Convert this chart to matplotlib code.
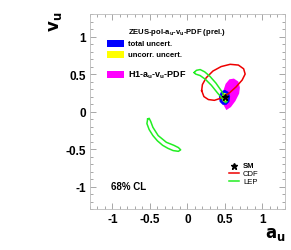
import numpy as np
import matplotlib
matplotlib.use('Agg')
import matplotlib.pyplot as plt
from matplotlib.patches import Rectangle
from matplotlib.ticker import MultipleLocator

plt.rcParams['font.family'] = ['Liberation Sans', 'DejaVu Sans']
plt.rcParams['axes.unicode_minus'] = False

# 68% CL contours (a_u, v_u)
h1_a = [0.52, 0.58, 0.64, 0.69, 0.70, 0.68, 0.62, 0.56, 0.51, 0.48, 0.47, 0.48]
h1_v = [0.02, 0.06, 0.14, 0.24, 0.32, 0.40, 0.44, 0.43, 0.37, 0.28, 0.18, 0.09]

tot_a = [0.42, 0.43, 0.47, 0.52, 0.56, 0.57, 0.55, 0.50, 0.45]
tot_v = [0.20, 0.13, 0.09, 0.09, 0.13, 0.20, 0.26, 0.29, 0.27]

unc_a = [0.46, 0.47, 0.50, 0.53, 0.54, 0.52, 0.49, 0.47]
unc_v = [0.19, 0.14, 0.12, 0.14, 0.19, 0.24, 0.25, 0.23]

cdf_a = [0.19, 0.22, 0.28, 0.36, 0.45, 0.55, 0.65, 0.73, 0.77, 0.75, 0.68, 0.57, 0.45, 0.34, 0.25, 0.20, 0.19]
cdf_v = [0.28, 0.20, 0.16, 0.15, 0.18, 0.24, 0.33, 0.42, 0.50, 0.57, 0.62, 0.63, 0.60, 0.54, 0.45, 0.36, 0.28]

lep1_a = [0.09, 0.12, 0.17, 0.23, 0.30, 0.38, 0.45, 0.50, 0.53, 0.51, 0.47, 0.40, 0.32, 0.24, 0.17, 0.11, 0.09]
lep1_v = [0.52, 0.55, 0.56, 0.53, 0.47, 0.38, 0.28, 0.20, 0.14, 0.12, 0.17, 0.25, 0.35, 0.43, 0.48, 0.50, 0.52]

lep2_a = [-0.53, -0.54, -0.51, -0.46, -0.40, -0.33, -0.26, -0.19, -0.12, -0.09, -0.12, -0.18, -0.28, -0.39, -0.46, -0.49, -0.51, -0.53]
lep2_v = [-0.10, -0.16, -0.24, -0.32, -0.39, -0.45, -0.49, -0.52, -0.53, -0.51, -0.48, -0.45, -0.41, -0.32, -0.21, -0.13, -0.09, -0.10]

sm_a = [0.50]
sm_v = [0.20]

ticks = [-1, -0.5, 0, 0.5, 1]
tick_labels = ['-1', '-0.5', '0', '0.5', '1']

fig = plt.figure(figsize=(2.91, 2.51), dpi=100)
ax = fig.add_axes([0.309, 0.163, 0.670, 0.777])

ax.fill(h1_a, h1_v, color='#ff00ff', lw=0)
ax.fill(tot_a, tot_v, color='#0000ff', lw=0)
ax.fill(unc_a, unc_v, color='#ffff00', lw=0)
ax.plot(cdf_a, cdf_v, color='#ee0000', lw=1.1)
ax.plot(lep1_a, lep1_v, color='#22ee22', lw=1.1)
ax.plot(lep2_a, lep2_v, color='#22ee22', lw=1.1)
ax.plot(sm_a, sm_v, '*', color='black', ms=5)

ax.set_xlim(-1.3, 1.3)
ax.set_ylim(-1.3, 1.3)
ax.set_xticks(ticks)
ax.set_xticklabels(tick_labels)
ax.set_yticks(ticks)
ax.set_yticklabels(tick_labels)
ax.xaxis.set_minor_locator(MultipleLocator(0.1))
ax.yaxis.set_minor_locator(MultipleLocator(0.1))
ax.tick_params(which='both', direction='in', top=True, right=True, color='#999999', width=0.6)
ax.tick_params(which='major', length=4, labelsize=8.5, pad=3)
ax.tick_params(which='minor', length=2)
for lab in ax.get_xticklabels() + ax.get_yticklabels():
    lab.set_fontweight('bold')
for s in ax.spines.values():
    s.set_color('#bbbbbb')
    s.set_linewidth(0.6)

fig.text(0.98, 0.03, r'$\mathbf{a_u}$', fontsize=12, ha='right', va='bottom')
fig.text(0.19, 0.955, r'$\mathbf{v_u}$', fontsize=12, ha='center', va='top', rotation=90)

# legend (top left)
fs = 5.5
ax.text(0.195, 0.909, r'ZEUS-pol-a$_\mathregular{u}$-v$_\mathregular{u}$-PDF (prel.)',
        transform=ax.transAxes, fontsize=fs, fontweight='bold', va='center')
ax.add_patch(Rectangle((0.086, 0.830), 0.090, 0.035, transform=ax.transAxes, color='#0000ff', lw=0))
ax.text(0.195, 0.848, 'total uncert.', transform=ax.transAxes, fontsize=fs, fontweight='bold', va='center')
ax.add_patch(Rectangle((0.086, 0.775), 0.090, 0.035, transform=ax.transAxes, color='#ffff00', lw=0))
ax.text(0.195, 0.793, 'uncorr. uncert.', transform=ax.transAxes, fontsize=fs, fontweight='bold', va='center')
ax.add_patch(Rectangle((0.086, 0.672), 0.090, 0.038, transform=ax.transAxes, color='#ff00ff', lw=0))
ax.text(0.195, 0.692, r'H1-a$_\mathregular{u}$-v$_\mathregular{u}$-PDF',
        transform=ax.transAxes, fontsize=6.5, fontweight='bold', va='center')

# legend (bottom right)
ax.plot([0.738], [0.222], '*', color='black', ms=4.5, transform=ax.transAxes)
ax.text(0.785, 0.222, 'SM', transform=ax.transAxes, fontsize=fs, fontweight='bold', va='center')
ax.plot([0.713, 0.764], [0.183, 0.183], color='#ee0000', lw=1.1, transform=ax.transAxes)
ax.text(0.785, 0.183, 'CDF', transform=ax.transAxes, fontsize=fs, va='center')
ax.plot([0.713, 0.764], [0.142, 0.142], color='#22ee22', lw=1.1, transform=ax.transAxes)
ax.text(0.785, 0.142, 'LEP', transform=ax.transAxes, fontsize=fs, va='center')

ax.text(0.108, 0.118, '68% CL', transform=ax.transAxes, fontsize=7, fontweight='bold', va='center')

fig.savefig('out.png', dpi=100)
